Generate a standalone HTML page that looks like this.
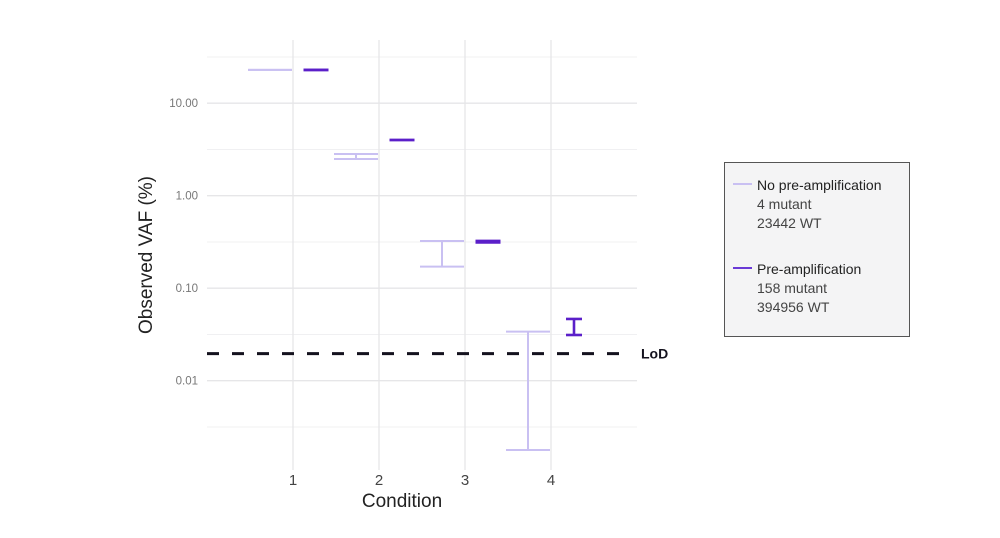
<!DOCTYPE html>
<html><head><meta charset="utf-8"><style>
body{margin:0;background:#fff;}
svg{display:block;font-family:"Liberation Sans",sans-serif;}
</style></head><body>
<svg id="chart" width="1000" height="538" viewBox="0 0 1000 538">
<g id="grid"></g>
<g id="marks"></g>
<g id="axes"></g>
<text x="152" y="255" transform="rotate(-90 152 255)" text-anchor="middle" font-size="19" fill="#222">Observed VAF (%)</text>
<text x="402" y="507" text-anchor="middle" font-size="19" fill="#222">Condition</text>
<g>
<rect x="724.5" y="162.5" width="185" height="174" fill="#f4f4f5" stroke="#555" stroke-width="1"/>
<g>
<line x1="733" y1="184" x2="752" y2="184" stroke="#c9c0f2" stroke-width="2"/>
<text x="757" y="190" font-size="14" fill="#222">No pre-amplification</text>
<text x="757" y="209" font-size="14" fill="#444">4 mutant</text>
<text x="757" y="228" font-size="14" fill="#444">23442 WT</text>
</g>
<g>
<line x1="733" y1="268" x2="752" y2="268" stroke="#6a3ad6" stroke-width="2"/>
<text x="757" y="274" font-size="14" fill="#222">Pre-amplification</text>
<text x="757" y="293" font-size="14" fill="#444">158 mutant</text>
<text x="757" y="312" font-size="14" fill="#444">394956 WT</text>
</g>
</g>
</svg>
<script>
const categories = ["1","2","3","4"];
const noPreLow  = [22.9, 2.49, 0.171, 0.00178];
const noPreHigh = [22.9, 2.82, 0.324, 0.0339];
const preLow    = [22.9, 4.0, 0.312, 0.0312];
const preHigh   = [22.9, 4.0, 0.324, 0.0465];
const yTicks = [10, 1, 0.1, 0.01];
const yTickLabels = ["10.00","1.00","0.10","0.01"];
const lodValue = 0.0196;

const NS = "http://www.w3.org/2000/svg";
const X0 = 207, X1 = 637, Y0 = 40, Y1 = 470;
function yScale(v){ return 195.7 - 92.5*Math.log10(v); }
function xScale(i){ return 293 + 86*i; }
function mk(parent, tag, attrs){ const e=document.createElementNS(NS,tag); for(const k in attrs) e.setAttribute(k,attrs[k]); parent.appendChild(e); return e; }
const grid=document.getElementById('grid'), marks=document.getElementById('marks'), axes=document.getElementById('axes');

yTicks.concat([100]).forEach(t=>{
  const y=yScale(t/Math.sqrt(10));
  if(y<Y0||y>Y1) return;
  const l=mk(grid,'line',{x1:X0,x2:X1,y1:y,y2:y,stroke:'#f0f0f2','stroke-width':1});
  
  
});
yTicks.forEach((t,i)=>{
  const y=yScale(t);
  const l=mk(grid,'line',{x1:X0,x2:X1,y1:y,y2:y,stroke:'#e6e6e8','stroke-width':1.3});
  
  
  const tx=mk(axes,'text',{x:198,y:y+4,'text-anchor':'end','font-size':11.5,fill:'#777'});
  tx.textContent=yTickLabels[i];
  
  
});
categories.forEach((c,i)=>{
  const x=xScale(i);
  const l=mk(grid,'line',{x1:x,x2:x,y1:Y0,y2:Y1,stroke:'#e6e6e8','stroke-width':1.3});
  
  
  const tx=mk(axes,'text',{x:x,y:485,'text-anchor':'middle','font-size':15,fill:'#444'});
  tx.textContent=c;
  
  
});

function errBar(cx, lo, hi, w, color, sw, name){
  const g=mk(marks,'g',{});
  
  
  const yl=yScale(lo), yh=yScale(hi);
  mk(g,'line',{x1:cx-w/2,x2:cx+w/2,y1:yh,y2:yh,stroke:color,'stroke-width':sw});
  mk(g,'line',{x1:cx-w/2,x2:cx+w/2,y1:yl,y2:yl,stroke:color,'stroke-width':sw});
  mk(g,'line',{x1:cx,x2:cx,y1:yh,y2:yl,stroke:color,'stroke-width':sw});
}
categories.forEach((c,i)=>{
  errBar(xScale(i)-23, noPreLow[i], noPreHigh[i], 44, '#c9c0f2', 2, 'errorbar-no-preamp-'+c);
  errBar(xScale(i)+23, preLow[i], preHigh[i], i===3?16:25, '#5b1fc9', 2.6, 'errorbar-preamp-'+c);
});

const ly=yScale(lodValue);
const lod=mk(marks,'line',{x1:X0,x2:631,y1:ly,y2:ly,stroke:'#14121e','stroke-width':3,'stroke-dasharray':'12 13'});


const lt=mk(marks,'text',{x:641,y:ly+5,'font-size':14,'font-weight':'bold',fill:'#14121e'});
lt.textContent='LoD';


</script>
</body></html>
